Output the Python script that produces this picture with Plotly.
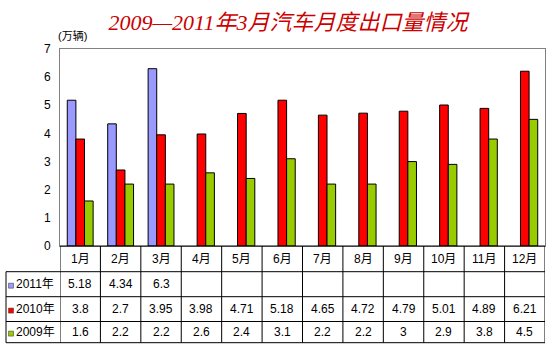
import plotly.graph_objects as go

months = ["1月", "2月", "3月", "4月", "5月", "6月", "7月", "8月", "9月", "10月", "11月", "12月"]
series_names = ["2011年", "2010年", "2009年"]
v2011 = [5.18, 4.34, 6.3, None, None, None, None, None, None, None, None, None]
v2010 = [3.8, 2.7, 3.95, 3.98, 4.71, 5.18, 4.65, 4.72, 4.79, 5.01, 4.89, 6.21]
v2009 = [1.6, 2.2, 2.2, 2.6, 2.4, 3.1, 2.2, 2.2, 3, 2.9, 3.8, 4.5]
y_ticks = [0, 1, 2, 3, 4, 5, 6, 7]
title_text = "2009—2011年3月汽车月度出口量情况"
unit_text = "(万辆)"

colors = ["#9999FF", "#FF0000", "#99CC00"]
series_vals = [v2011, v2010, v2009]

W, H = 550, 356
L, R, T, B = 60, 5, 49, 110
PW, PH = W - L - R, H - T - B
plot_bottom_px = T + PH

def py(p):  # pixel y -> paper y
    return (plot_bottom_px - p) / PH

def px(p):  # pixel x -> paper x
    return (p - L) / PW

FONT = "Liberation Sans, Arial, Noto Sans CJK SC, sans-serif"

fig = go.Figure()
for name, vals, c in zip(series_names, series_vals, colors):
    fig.add_trace(go.Bar(x=months, y=vals, name=name,
                         marker=dict(color=c, line=dict(color="black", width=1))))

# table geometry (pixels)
row_edges = [246, 271.7, 296.7, 321.5, 342.7]
table_left = 6

shapes = []
line = dict(color="black", width=1)
shapes.append(dict(type="line", xref="paper", yref="paper", x0=0, x1=1,
                   y0=py(row_edges[0]), y1=py(row_edges[0]), line=line))
for e in row_edges[1:]:
    shapes.append(dict(type="line", xref="paper", yref="paper", x0=px(table_left), x1=1,
                       y0=py(e), y1=py(e), line=line))
for i in range(len(months) + 1):
    shapes.append(dict(type="line", xref="x", yref="paper", x0=i - 0.5, x1=i - 0.5,
                       y0=0, y1=py(row_edges[-1]), line=line))
shapes.append(dict(type="line", xref="paper", yref="paper", x0=px(table_left), x1=px(table_left),
                   y0=py(row_edges[1]), y1=py(row_edges[-1]), line=line))

annotations = []
tfont = dict(family=FONT, size=12, color="black")
hc = (row_edges[0] + row_edges[1]) / 2
for m in months:
    annotations.append(dict(x=m, xref="x", y=py(hc), yref="paper", text=m, showarrow=False,
                            font=tfont, xanchor="center", yanchor="middle"))
for r, (name, vals, c) in enumerate(zip(series_names, series_vals, colors)):
    cy = (row_edges[r + 1] + row_edges[r + 2]) / 2
    for m, v in zip(months, vals):
        if v is None:
            continue
        annotations.append(dict(x=m, xref="x", y=py(cy), yref="paper", text=f"{v:g}",
                                showarrow=False, font=tfont, xanchor="center", yanchor="middle"))
    annotations.append(dict(x=px(14), xref="paper", y=py(cy), yref="paper", text=name,
                            showarrow=False, font=tfont, xanchor="left", yanchor="middle"))
    shapes.append(dict(type="rect", xref="paper", yref="paper",
                       x0=px(8.5), x1=px(13.5), y0=py(cy - 1), y1=py(cy + 4),
                       fillcolor=c, line=dict(color="#333333", width=0.5)))

annotations.append(dict(x=px(56), xref="paper", y=py(35), yref="paper", text=unit_text,
                        showarrow=False, font=dict(family=FONT, size=11, color="black"),
                        xanchor="left", yanchor="middle"))

fig.update_layout(
    width=W, height=H,
    margin=dict(l=L, r=R, t=T, b=B, pad=0),
    paper_bgcolor="white", plot_bgcolor="white",
    barmode="group", bargap=0.36, bargroupgap=0,
    showlegend=False,
    title=dict(text=title_text, x=px(288), xref="paper", xanchor="center",
               y=1 - 22 / H, yref="container", yanchor="middle",
               font=dict(family="Liberation Serif, Noto Sans CJK SC, serif", size=22,
                         color="#CC0000", style="italic")),
    shapes=shapes, annotations=annotations,
)
fig.update_xaxes(showticklabels=False, ticks="", showgrid=False, showline=True,
                 linecolor="#808080", linewidth=1, mirror=True, range=[-0.5, 11.5])
fig.update_yaxes(range=[0, 7], tickvals=y_ticks, showgrid=False, zeroline=False,
                 showline=True, linecolor="#808080", linewidth=1, mirror=True,
                 ticks="", ticklabelstandoff=6,
                 tickfont=dict(family=FONT, size=12, color="black"))

fig.write_html("out.html", config={"displayModeBar": False},
               post_script="document.body.style.margin='0';document.body.style.overflow='hidden';")
